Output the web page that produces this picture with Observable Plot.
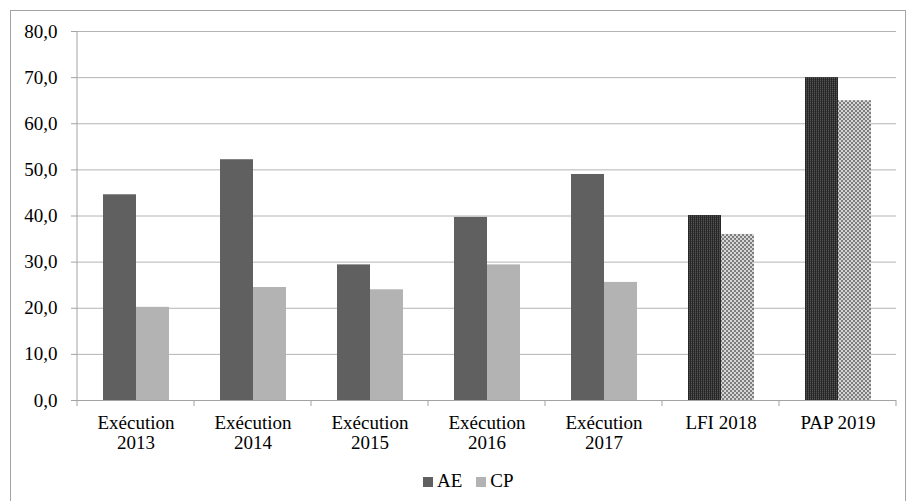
<!DOCTYPE html>
<html><head><meta charset="utf-8">
<script src="https://cdn.jsdelivr.net/npm/d3@7"></script>
<script src="https://cdn.jsdelivr.net/npm/@observablehq/plot@0.6"></script>
<style>
body{margin:0;background:#fff;font-family:"Liberation Serif","Times New Roman",serif;color:#000}
#wrap{position:relative;width:912px;height:501px;overflow:hidden;background:#fff}
#frame{position:absolute;left:10px;top:10px;width:896px;height:560px;border:1.5px solid #a3a3a3;box-sizing:border-box}
#chart{position:absolute;left:0;top:0}
#legend{position:absolute;top:471px;left:423px;display:flex;align-items:center;font-size:19px;line-height:20px}
.item{display:flex;align-items:center;margin-right:14px}
.sw{display:inline-block;width:10px;height:10px;margin-right:4px;margin-top:2px}
</style></head><body>
<div id="wrap"><div id="frame"></div><div id="chart"></div><div id="legend"></div></div>
<script>
const categories = ["Exécution 2013","Exécution 2014","Exécution 2015","Exécution 2016","Exécution 2017","LFI 2018","PAP 2019"];
const tickLabels = ["Exécution\n2013","Exécution\n2014","Exécution\n2015","Exécution\n2016","Exécution\n2017","LFI 2018","PAP 2019"];
const seriesNames = ["AE","CP"];
const aeValues = [44.6, 52.2, 29.4, 39.7, 49.0, 40.1, 70.0];
const cpValues = [20.2, 24.5, 24.0, 29.4, 25.6, 36.0, 65.0];
const isForecast = [false, false, false, false, false, true, true];
const yTicks = [0, 10, 20, 30, 40, 50, 60, 70, 80];

const solidFill = {AE: "#606060", CP: "#b3b3b3"};
const patternFill = {AE: "url(#patAE)", CP: "url(#patCP)"};
const serif = "Liberation Serif, Times New Roman, serif";

const rows = categories.flatMap((c, i) => [
  {cat: c, series: "AE", value: aeValues[i], forecast: isForecast[i]},
  {cat: c, series: "CP", value: cpValues[i], forecast: isForecast[i]}
]);

const fmt = d => d.toFixed(1).replace(".", ",");

const plot = Plot.plot({
  width: 912, height: 455,
  marginTop: 31, marginBottom: 55, marginLeft: 74, marginRight: 14,
  style: {fontFamily: serif, fontSize: "19px", color: "#000", background: "transparent", overflow: "visible"},
  fx: {domain: categories, padding: 0, label: null},
  x: {domain: seriesNames, paddingInner: 0, paddingOuter: 0.73, axis: null},
  y: {domain: [0, 80], label: null},
  color: {type: "identity"},
  marks: [
    Plot.gridY(yTicks, {stroke: "#b4b4b4", strokeOpacity: 1}),
    Plot.barY(rows, {fx: "cat", x: "series", y: "value",
      fill: d => d.forecast ? patternFill[d.series] : solidFill[d.series]}),
    Plot.ruleY([0], {stroke: "#a3a3a3"}),
    Plot.axisY({ticks: yTicks, tickSize: 6, tickPadding: 14, tickFormat: fmt, stroke: "#a3a3a3", fontSize: 19, fontFamily: serif, label: null}),
    Plot.axisFx({anchor: "bottom", tickSize: 0, tickPadding: 14, lineHeight: 1.05, fontSize: 19, fontFamily: serif, label: null,
      tickFormat: d => tickLabels[categories.indexOf(d)]})
  ]
});

document.getElementById("chart").appendChild(plot);

// patterns for forecast bars
const svg = d3.select(plot);
const defs = svg.insert("defs", ":first-child");
const pA = defs.append("pattern").attr("id", "patAE").attr("patternUnits", "userSpaceOnUse").attr("width", 2).attr("height", 2);
pA.append("rect").attr("width", 2).attr("height", 2).attr("fill", "#555");
pA.append("rect").attr("width", 1).attr("height", 2).attr("fill", "#262626");
pA.append("rect").attr("x", 1).attr("y", 1).attr("width", 1).attr("height", 1).attr("fill", "#3a3a3a");
const pC = defs.append("pattern").attr("id", "patCP").attr("patternUnits", "userSpaceOnUse").attr("width", 4).attr("height", 4);
pC.append("rect").attr("width", 4).attr("height", 4).attr("fill", "#d6d6d6");
pC.append("rect").attr("width", 2).attr("height", 2).attr("fill", "#7e7e7e");
pC.append("rect").attr("x", 2).attr("y", 2).attr("width", 2).attr("height", 2).attr("fill", "#7e7e7e");

// axis lines and category boundary ticks from the library's scales
const fx = plot.scale("fx"), y = plot.scale("y");
const y0 = y.apply(0), yTop = y.apply(80);
const x0 = fx.apply(categories[0]);
const g = svg.append("g").attr("stroke", "#a3a3a3").attr("stroke-width", 1);
g.append("line").attr("x1", x0).attr("x2", x0).attr("y1", yTop).attr("y2", y0);
const bounds = categories.map(c => fx.apply(c)).concat([fx.apply(categories[categories.length - 1]) + fx.bandwidth]);
bounds.forEach(b => g.append("line").attr("x1", b).attr("x2", b).attr("y1", y0).attr("y2", y0 + 6));

// legend
const leg = d3.select("#legend");
seriesNames.forEach(s => {
  const it = leg.append("div").attr("class", "item");
  it.append("span").attr("class", "sw").style("background", solidFill[s]);
  it.append("span").text(s);
});
</script>
</body></html>
